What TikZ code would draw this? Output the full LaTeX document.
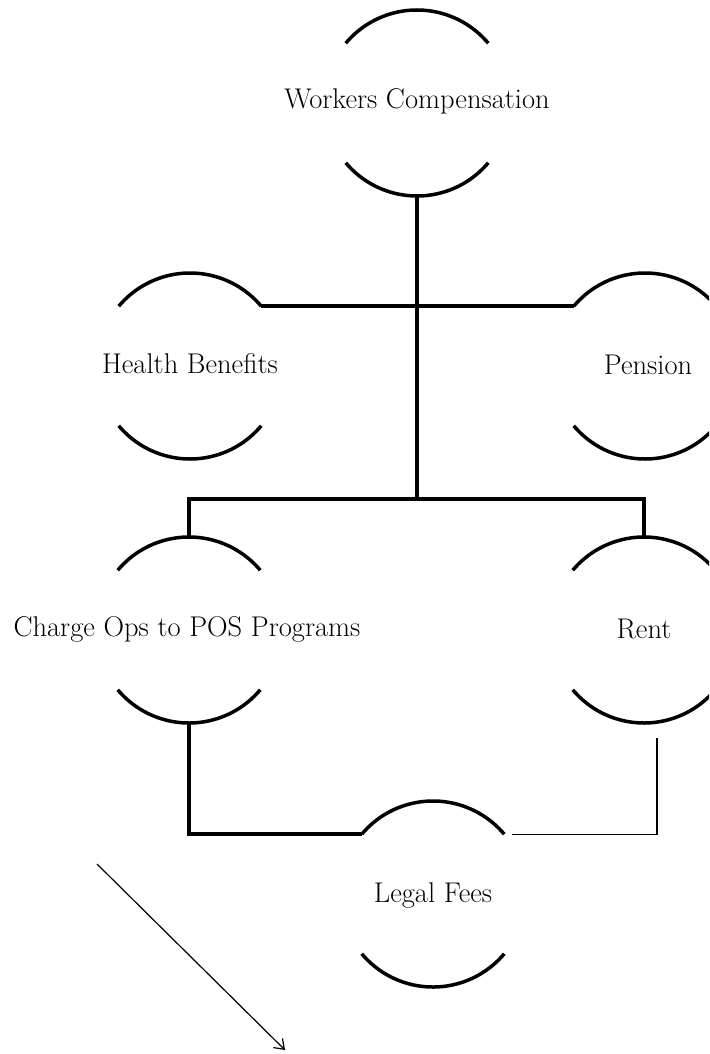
\documentclass[tikz,border=0pt]{standalone}
\usetikzlibrary{arrows.meta}
\begin{document}
\begin{tikzpicture}[x=1pt,y=1pt,
  bub/.style={circle,minimum size=186pt,inner sep=0pt,outer sep=0pt},
  lbl/.style={anchor=base,inner sep=0pt,outer sep=0pt,font=\fontsize{28.5}{32}\selectfont},
  heavy/.style={line width=3.5pt},
  light/.style={line width=1.2pt}]
\useasboundingbox (0,0) rectangle (709,-1054);
\clip (0,0) rectangle (709,-1054);
% bubbles (only their top and bottom arcs are drawn)
\node[bub] (wc)   at (417,-103) {};
\node[bub] (hb)   at (190,-366) {};
\node[bub] (pen)  at (645,-366) {};
\node[bub] (co)   at (189,-630) {};
\node[bub] (rent) at (644,-630) {};
\node[bub] (lf)   at (433,-894) {};
\foreach \n in {wc,hb,pen,co,rent,lf}{
  \draw[heavy] (\n.40) arc[start angle=40,end angle=140,radius=93pt];
  \draw[heavy] (\n.220) arc[start angle=220,end angle=320,radius=93pt];
}
% labels
\node[lbl] (wct)   at ([yshift=-6pt]wc.center)   {Workers Compensation};
\node[lbl] (hbt)   at ([yshift=-7pt]hb.center)   {Health Benefits};
\node[lbl] (pent)  at ([xshift=3pt,yshift=-8pt]pen.center) {Pension};
\node[lbl] (cot)   at ([xshift=-2pt,yshift=-6pt]co.center)   {Charge Ops to POS Programs};
\node[lbl] (rentt) at ([yshift=-8pt]rent.center) {Rent};
\node[lbl] (lft)   at ([yshift=-8pt]lf.center)   {Legal Fees};
% connectors
\coordinate (bus) at (417,-499);
\draw[heavy] (wc.south) -- (bus);
\draw[heavy] (hb.40) -- (hb.40 -| pen.140);
\draw[heavy] (co.north) -- (co.north |- bus) -- (rent.north |- bus) -- (rent.north);
\draw[heavy] (co.south) -- (co.south |- lf.140) -- (lf.140);
\coordinate (rentout) at (657,-738);
\draw[light] (rentout) |- ([xshift=8pt]lf.40);
\coordinate (arrA) at (97,-864);
\coordinate (arrB) at (285,-1050);
\draw[light,-{Straight Barb[length=9pt,width=13pt]}] (arrA) -- (arrB);
\end{tikzpicture}
\end{document}
